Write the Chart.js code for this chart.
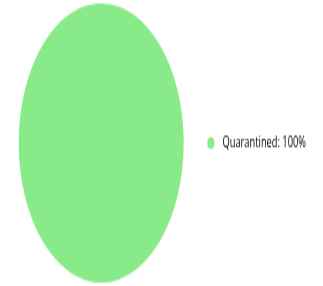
<!DOCTYPE html>
<html>
<head>
<meta charset="utf-8">
<script src="https://cdn.jsdelivr.net/npm/chart.js"></script>
<style>
    html, body { margin: 0; padding: 0; background: #fff; }
    #frame { width: 323px; height: 286px; overflow: hidden; }
    /* the source image is squashed horizontally, so draw at 323x169 and stretch it vertically */
    #wrap { width: 323px; height: 169px; transform: scaleY(1.6923); transform-origin: 0 0; }
</style>
</head>
<body>
<div id="frame"><div id="wrap"><canvas id="statusChart"></canvas></div></div>
<script>
const categories = ['Quarantined'];
const shares = [100];
const sliceColors = ['#88ea88'];

const ctx = document.getElementById('statusChart');

new Chart(ctx, {
    type: 'pie',
    data: {
        labels: categories,
        datasets: [{
            data: shares,
            backgroundColor: sliceColors,
            borderWidth: 0
        }]
    },
    options: {
        responsive: true,
        maintainAspectRatio: false,
        animation: false,
        layout: {
            padding: { left: 6, right: 7, top: 2, bottom: 2 }
        },
        plugins: {
            legend: {
                position: 'right',
                labels: {
                    usePointStyle: true,
                    boxWidth: 9,
                    boxHeight: 5,
                    color: '#5c5c5c',
                    font: { family: 'Open Sans', size: 9.3 },
                    generateLabels: function (chart) {
                        const ds = chart.data.datasets[0];
                        // leading space widens the gap between dot and text
                        return chart.data.labels.map((label, i) => ({
                            text: ` ${label}: ${ds.data[i]}%`,
                            fillStyle: ds.backgroundColor[i],
                            strokeStyle: ds.backgroundColor[i],
                            lineWidth: 0,
                            pointStyle: 'circle',
                            index: i
                        }));
                    }
                }
            },
            tooltip: { enabled: false }
        }
    }
});
</script>
</body>
</html>
